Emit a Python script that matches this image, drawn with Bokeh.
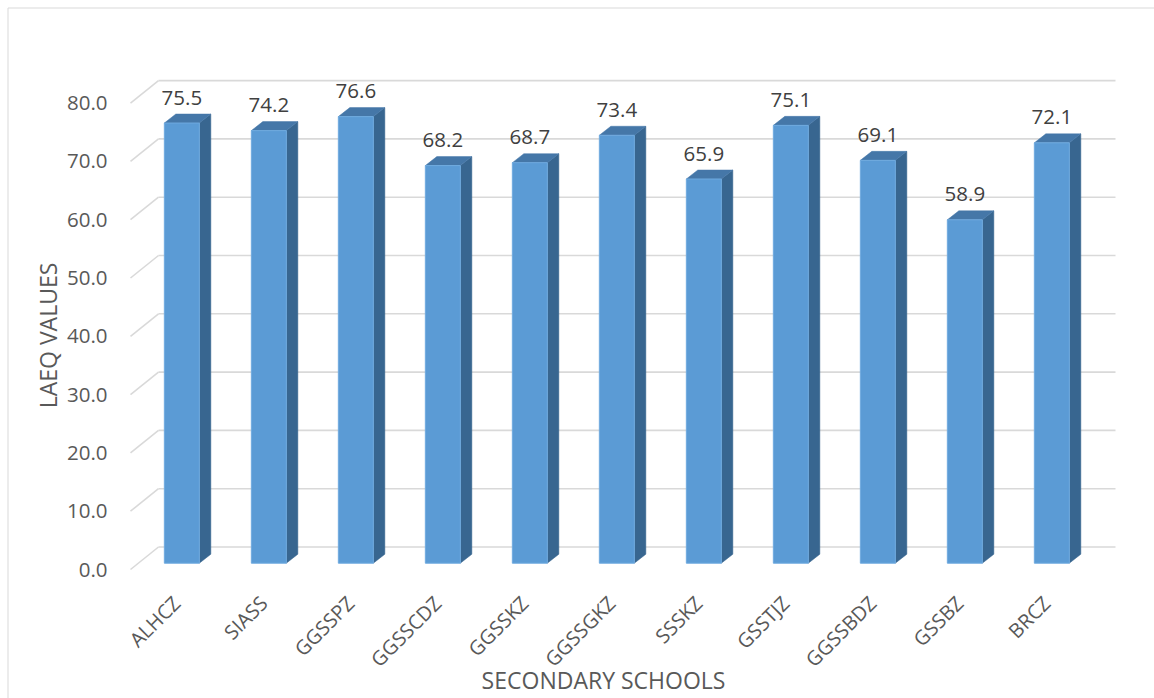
import math
from bokeh.plotting import figure
from bokeh.models import Range1d, ColumnDataSource
from bokeh.embed import file_html
from bokeh.resources import INLINE
from bokeh.core.properties import value

# ---- data ----
schools = ["ALHCZ", "SIASS", "GGSSPZ", "GGSSCDZ", "GGSSKZ", "GGSSGKZ",
           "SSSKZ", "GSSTJZ", "GGSSBDZ", "GSSBZ", "BRCZ"]
laeq = [75.5, 74.2, 76.6, 68.2, 68.7, 73.4, 65.9, 75.1, 69.1, 58.9, 72.1]
y_ticks = [0, 10, 20, 30, 40, 50, 60, 70, 80]
y_tick_labels = ["0.0", "10.0", "20.0", "30.0", "40.0", "50.0", "60.0", "70.0", "80.0"]
x_title = "SECONDARY  SCHOOLS"
y_title = "LAEQ VALUES"

# ---- geometry (pixel scale of the data space) ----
W, H = 1154, 698
PX_X = 87.0      # pixels per category
PX_Y = 5.83      # pixels per unit of value
ORG_X, ORG_Y = 130.0, 569.0   # pixel position of (0, 0) on the front plane

FLOOR_DX = 28.0 / PX_X        # depth of the 3D floor in data units
FLOOR_DY = 22.5 / PX_Y
BAR_POS = 0.28                # depth fraction where the bar front sits
BAR_DX = 11.5 / PX_X          # depth of a bar
BAR_DY = 9.0 / PX_Y
BAR_W = 35.0 / PX_X

FONT = value("Open Sans")

p = figure(width=W, height=H, output_backend="svg", toolbar_location=None,
           x_range=Range1d(-ORG_X / PX_X, (W - ORG_X) / PX_X),
           y_range=Range1d(-(H - ORG_Y) / PX_Y, ORG_Y / PX_Y),
           x_axis_type=None, y_axis_type=None)
p.min_border = 0
p.outline_line_color = None
p.background_fill_color = "white"
p.border_fill_color = "white"
p.xgrid.visible = False
p.ygrid.visible = False

n = len(schools)
xr0, xr1 = p.x_range.start, p.x_range.end
yr0, yr1 = p.y_range.start, p.y_range.end

# outer chart border (left and top edges visible)
bx_left = xr0 + 7.5 / PX_X
by_top = yr1 - 7.5 / PX_Y
p.segment(x0=[bx_left, bx_left], y0=[yr0, by_top], x1=[bx_left, xr1], y1=[by_top, by_top],
          line_color="#D9D9D9", line_width=1)

# gridlines on the back wall + diagonals on the side wall
grid_color = "#D9D9D9"
p.segment(x0=[FLOOR_DX] * len(y_ticks), y0=[t + FLOOR_DY for t in y_ticks],
          x1=[n + FLOOR_DX] * len(y_ticks), y1=[t + FLOOR_DY for t in y_ticks],
          line_color=grid_color, line_width=1.6)
p.segment(x0=[0] * len(y_ticks), y0=y_ticks,
          x1=[FLOOR_DX] * len(y_ticks), y1=[t + FLOOR_DY for t in y_ticks],
          line_color=grid_color, line_width=1.6)

# bars
ox = BAR_POS * FLOOR_DX
oy = BAR_POS * FLOOR_DY
cx = [i + 0.5 + ox for i in range(n)]
L = [c - BAR_W / 2 for c in cx]
R = [c + BAR_W / 2 for c in cx]
B = [oy] * n
T = [v + oy for v in laeq]

side_xs = [[r, r + BAR_DX, r + BAR_DX, r] for r in R]
side_ys = [[b, b + BAR_DY, t + BAR_DY, t] for b, t in zip(B, T)]
top_xs = [[l, r, r + BAR_DX, l + BAR_DX] for l, r in zip(L, R)]
top_ys = [[t, t, t + BAR_DY, t + BAR_DY] for t in T]

p.patches(side_xs, side_ys, fill_color="#386690", line_color="#386690", line_width=0.5)
p.patches(top_xs, top_ys, fill_color="#4577A8", line_color="#4577A8", line_width=0.5)
p.quad(left=L, right=R, bottom=B, top=T, fill_color="#5B9BD5",
       line_color="#6FAADF", line_width=1)

# data labels
lbl = ColumnDataSource(dict(x=cx, y=[t + 25.5 / PX_Y for t in T],
                            text=["%.1f" % v for v in laeq]))
p.text(x="x", y="y", text="text", source=lbl, text_align="center",
       text_baseline="middle", text_font=FONT, text_font_size="20.5px",
       text_color="#404040")

# y tick labels (front plane)
p.text(x=[-23.0 / PX_X] * len(y_ticks), y=y_ticks, text=y_tick_labels,
       text_align="right", text_baseline="middle", text_font=FONT,
       text_font_size="20.5px", text_color="#595959")

# x tick labels (rotated)
p.text(x=[i + 0.53 for i in range(n)], y=[-30.0 / PX_Y] * n, text=schools,
       angle=math.pi / 4, text_align="right", text_baseline="middle",
       text_font=FONT, text_font_size="20px", text_color="#595959")

# axis titles
p.text(x=[(606 - ORG_X) / PX_X], y=[(ORG_Y - 679) / PX_Y], text=[x_title],
       text_align="center", text_baseline="middle", text_font=FONT,
       text_font_size="23px", text_color="#595959")
p.text(x=[(47 - ORG_X) / PX_X], y=[(ORG_Y - 335) / PX_Y], text=[y_title],
       angle=math.pi / 2, text_align="center", text_baseline="middle",
       text_font=FONT, text_font_size="23px", text_color="#595959")

open("out.html", "w").write(file_html(p, INLINE))
